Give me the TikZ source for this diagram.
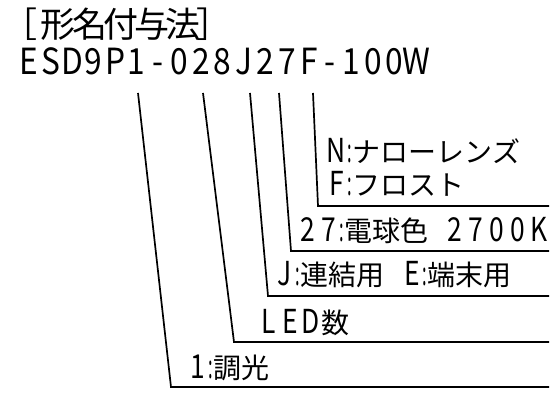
\documentclass[tikz,border=0pt]{standalone}
\usepackage{fontspec}
\usepackage{graphicx}
\setmainfont{Noto Sans CJK JP}
\newlength\latw \newlength\cjkw \newlength\spw \newlength\colw
\setlength\colw{5pt}
\def\lsz{28}\def\csz{24}\def\lxs{0.8}
\newcommand\setlbl[5]{\def\lsz{#1}\def\csz{#2}\setlength\latw{#3pt}\setlength\cjkw{#4pt}\setlength\spw{#5pt}}
\makeatletter
\def\lbl#1{\lbl@loop#1\relax}
\def\lbl@loop#1{\ifx#1\relax\else\lbl@char{#1}\expandafter\lbl@loop\fi}
\def\lbl@char#1{%
  \ifx#1:\makebox[\colw][c]{\scalebox{0.5}[1]{\fontsize{\lsz}{\lsz}\selectfont:}}%
  \else\ifx#1|\hspace*{\spw}%
  \else\ifnum`#1<256 \makebox[\latw][c]{\scalebox{\lxs}[1]{\fontsize{\lsz}{\lsz}\selectfont#1}}%
  \else\makebox[\cjkw][c]{\fontsize{\csz}{\csz}\selectfont#1}\fi\fi\fi}
\makeatother
\tikzset{
  lbl/.style={inner sep=0pt, outer sep=0pt, anchor=base west},
  leader/.style={line width=1.7pt, line join=miter}
}
\begin{document}
\begin{tikzpicture}[x=1pt,y=-1pt]
\useasboundingbox (0,0) rectangle (557,393);
% title and code
\node[lbl] (title) at (43,38) {\setlbl{35}{35}{21.5}{31}{0}%
  \llap{\fontsize{35}{35}\selectfont［\kern6pt}\lbl{形名付与法}\rlap{\fontsize{35}{35}\selectfont\kern-2pt］}};
\node[lbl] (code) at (18.5,75) {\def\lxs{0.88}\setlbl{36}{30}{21.5}{28}{0}\lbl{ESD9P1-028J27F-100W}};
% labels
\node[lbl] (n5a) at (326,163) {\setlbl{33}{28}{21}{28}{0}\lbl{N:ナローレンズ}};
\node[lbl] (n5b) at (326,195) {\setlbl{33}{28}{21}{28}{0}\lbl{F:フロスト}};
\node[lbl] (n4) at (297.5,241) {\setlbl{33}{28}{21}{28}{16}\lbl{27:電球色|2700K}};
\node[lbl] (n3) at (274.5,285) {\setlbl{33}{28}{21}{28}{17}\lbl{J:連結用|E:端末用}};
\node[lbl] (n2) at (258.5,333) {\setlbl{33}{28}{21}{28}{0}\lbl{LED数}};
\node[lbl] (n1) at (187.5,378) {\setlbl{33}{28}{21}{28}{0}\lbl{1:調光}};
% leader coordinates
\coordinate (t1) at (138,93); \coordinate (c1) at (171,387); \coordinate (e1) at (549,387);
\coordinate (t2) at (203,93); \coordinate (c2) at (234,342); \coordinate (e2) at (549,342);
\coordinate (t3) at (250,93); \coordinate (c3) at (268,296); \coordinate (e3) at (549,296);
\coordinate (t4) at (279,93); \coordinate (c4) at (291,251); \coordinate (e4) at (549,251);
\coordinate (t5) at (313,93); \coordinate (c5) at (318,206); \coordinate (e5) at (549,206);
\draw[leader] (t1) -- (c1) -- (e1);
\draw[leader] (t2) -- (c2) -- (e2);
\draw[leader] (t3) -- (c3) -- (e3);
\draw[leader] (t4) -- (c4) -- (e4);
\draw[leader] (t5) -- (c5) -- (e5);
\end{tikzpicture}
\end{document}
